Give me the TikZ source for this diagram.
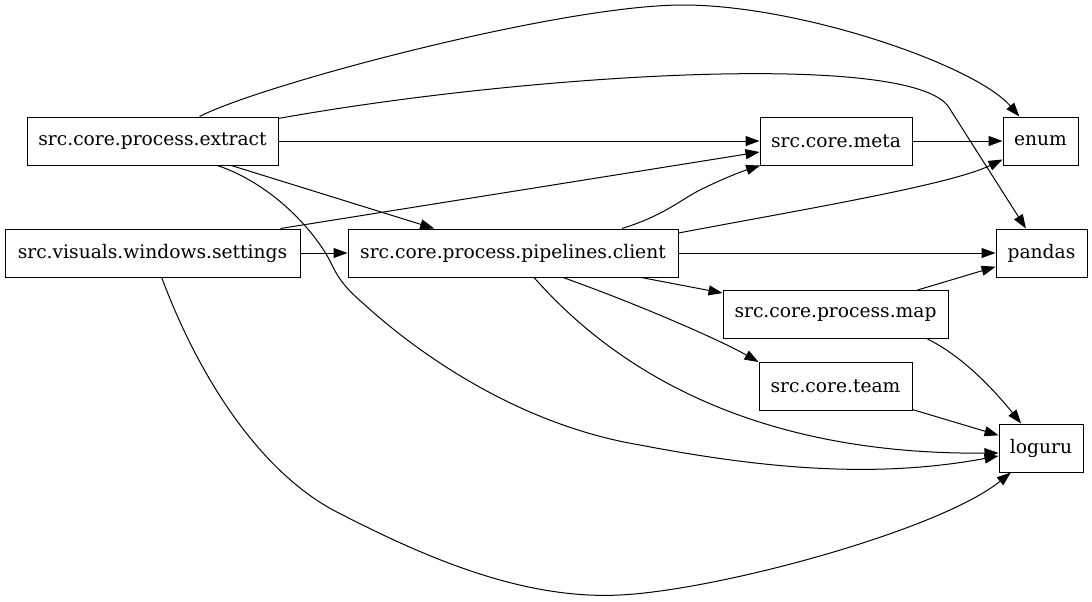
\documentclass[tikz,border=0pt]{standalone}
\usepackage{fontspec}
\setmainfont{DejaVu Serif}
\usetikzlibrary{arrows.meta, calc}
\tikzset{
  modbox/.style={draw, line width=0.75pt, inner sep=0pt, minimum height=36pt,
                 font=\fontsize{14pt}{17pt}\selectfont},
  dep/.style={-{Triangle[length=10.5pt,width=7.5pt]}, line width=0.75pt}
}

\begin{document}
\begin{tikzpicture}[x=0.75pt, y=-0.75pt]
    \useasboundingbox (0,0) rectangle (1092,601);
    \node[modbox, minimum width=188.25pt] (extract) at (152.5,141) {src.core.process.extract};
    \node[modbox, minimum width=221.25pt] (settings) at (152.5,253) {src.visuals.windows.settings};
    \node[modbox, minimum width=247.5pt] (client) at (513,253) {src.core.process.pipelines.client};
    \node[modbox, minimum width=114pt] (meta) at (836,141) {src.core.meta};
    \node[modbox, minimum width=168.75pt] (map) at (835.5,314.5) {src.core.process.map};
    \node[modbox, minimum width=114.75pt] (team) at (835.5,386.5) {src.core.team};
    \node[modbox, minimum width=56.25pt] (enum) at (1040.5,141) {enum};
    \node[modbox, minimum width=68.25pt] (pandas) at (1041.5,253) {pandas};
    \node[modbox, minimum width=63pt] (loguru) at (1041,448) {loguru};
    \draw[dep] (extract) .. controls (260,85) and (560,5) .. (683,5) .. controls (800,5) and (975,65) .. (enum);
    \draw[dep] (extract) .. controls (520,75) and (905,50) .. (948,106) -- (pandas);
    \draw[dep] (extract) -- (meta);
    \draw[dep] (extract) -- (client);
    \draw[dep] ($(extract.south)+(65,0)$) .. controls (275,185) and (318,235) .. (332,265)
        .. controls (340,282) and (350,292) .. (365,305) .. controls (420,355) and (520,425) .. (640,445)
        .. controls (770,470) and (880,478) .. (loguru);
    \draw[dep] ($(settings.north east)+(-20,0)$) -- ($(meta.west)+(0,11)$);
    \draw[dep] (settings) -- (client);
    \draw[dep] (settings) .. controls (200,380) and (260,470) .. (333,510)
        .. controls (420,555) and (520,600) .. (620,595) .. controls (720,590) and (940,530) .. (loguru);
    \draw[dep] ($(client.north)+(109,0)$) .. controls (665,215) and (680,200) .. (700,190)
        .. controls (720,180) and (740,172) .. (meta);
    \draw[dep] ($(client.east)+(0,-20)$) .. controls (800,210) and (950,185) .. (enum);
    \draw[dep] (client) -- (pandas);
    \draw[dep] (client) -- (map);
    \draw[dep] ($(client.south)+(50,0)$) .. controls (640,305) and (720,340) .. (team.north west);
    \draw[dep] ($(client.south)+(21,0)$) .. controls (620,375) and (760,455) .. ($(loguru.west)+(0,5)$);
    \draw[dep] (meta) -- (enum);
    \draw[dep] (map) -- (pandas);
    \draw[dep] ($(map.south east)+(-21,0)$) .. controls (960,355) and (990,385) .. (loguru);
    \draw[dep] (team) -- (loguru);
\end{tikzpicture}
\end{document}
